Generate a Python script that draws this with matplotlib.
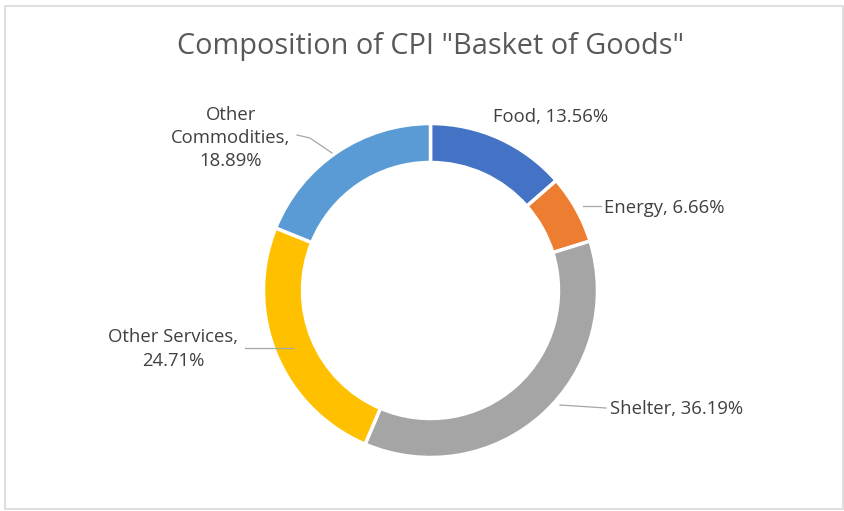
import matplotlib
matplotlib.use("Agg")
import matplotlib.pyplot as plt
from matplotlib.patches import Rectangle

# CPI basket composition (percent of index weight)
categories = ["Food", "Energy", "Shelter", "Other Services", "Other Commodities"]
shares = [13.56, 6.66, 36.19, 24.71, 18.89]
colors = ["#4472C4", "#ED7D31", "#A5A5A5", "#FFC000", "#5B9BD5"]

W, H = 845, 511
FONT = ["Open Sans", "DejaVu Sans"]

fig = plt.figure(figsize=(W / 100, H / 100), dpi=100)
fig.patch.set_facecolor("white")
ax = fig.add_axes([0, 0, 1, 1])


def py(y):
    """Convert a top-down pixel row into axes y."""
    return H - y


cx, cy = 430.5, py(290.5)
r_out = 167
ring_w = 39

ax.pie(
    shares,
    colors=colors,
    startangle=90,
    counterclock=False,
    radius=r_out,
    center=(cx, cy),
    wedgeprops=dict(width=ring_w, edgecolor="white", linewidth=2.5),
    frame=True,
)
ax.set_xlim(0, W)
ax.set_ylim(0, H)
ax.set_aspect("equal")
ax.axis("off")

# Chart frame
ax.add_patch(Rectangle((5, py(509)), 838, 503, fill=False, edgecolor="#d9d9d9",
                       linewidth=1.2, zorder=0))

ax.text(cx, py(46), 'Composition of CPI "Basket of Goods"', ha="center", va="center",
        fontsize=20.8, color="#595959", family=FONT)

# Data-label layout: displayed name, anchor (x, row, ha), leader line vertices
label_names = ["Food", "Energy", "Shelter", "Other Services", "Other\nCommodities"]
label_wrap = [False, False, False, True, True]
label_pos = [
    (493, 117, "left"),
    (604, 208, "left"),
    (610, 409, "left"),
    (173, 349, "center"),
    (231, 138, "center"),
]
leaders = [
    None,
    [(583, 206), (601, 206)],
    [(560, 405), (606, 408)],
    [(245, 348), (293, 348)],
    [(297, 135), (310, 138), (332, 153)],
]

for name, val, wrap, (lx, ly, ha), lead in zip(label_names, shares, label_wrap,
                                               label_pos, leaders):
    sep = ",\n" if wrap else ", "
    ax.text(lx, py(ly), f"{name}{sep}{val:.2f}%", ha=ha, va="center",
            fontsize=13.3, color="#404040", family=FONT,
            linespacing=1.38, multialignment="center")
    if lead:
        xs = [p[0] for p in lead]
        ys = [py(p[1]) for p in lead]
        ax.plot(xs, ys, color="#a6a6a6", linewidth=0.9, zorder=5)

fig.savefig("out.png", dpi=100, facecolor="white")
